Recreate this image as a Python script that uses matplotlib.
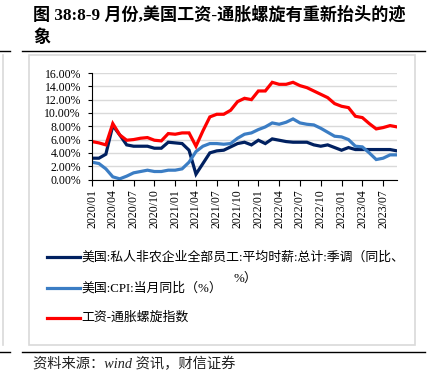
import matplotlib
matplotlib.use("Agg")
import matplotlib.pyplot as plt
from matplotlib.lines import Line2D
from matplotlib.patches import Rectangle
import numpy as np

months = [f"{y}/{m:02d}" for y in range(2020, 2024) for m in range(1, 13)][:45]

wage = [3.2, 3.2, 3.8, 8.1, 6.7, 5.2, 5.0, 5.0, 5.0, 4.7, 4.7, 5.6, 5.5, 5.4, 4.4,
        0.8, 2.4, 4.0, 4.3, 4.4, 4.9, 5.4, 5.6, 5.2, 5.9, 5.4, 6.1, 5.9, 5.7, 5.6,
        5.6, 5.6, 5.2, 5.0, 5.2, 4.8, 4.4, 4.8, 4.5, 4.5, 4.5, 4.5, 4.5, 4.5, 4.3]
cpi = [2.6, 2.4, 1.6, 0.4, 0.1, 0.5, 1.0, 1.2, 1.4, 1.2, 1.2, 1.4, 1.4, 1.6, 2.6,
       4.2, 5.0, 5.4, 5.4, 5.3, 5.4, 6.2, 6.8, 7.0, 7.5, 7.9, 8.5, 8.3, 8.6, 9.1,
       8.5, 8.3, 8.2, 7.7, 7.1, 6.5, 6.4, 6.0, 5.0, 4.9, 4.0, 3.0, 3.2, 3.7, 3.7]
spiral = [5.7, 5.5, 5.2, 8.4, 6.7, 5.9, 6.0, 6.2, 6.3, 5.9, 5.8, 6.9, 6.8, 7.0, 7.0,
          5.0, 7.3, 9.4, 9.8, 9.8, 10.4, 11.7, 12.2, 12.0, 13.3, 13.3, 14.6, 14.3, 14.3, 14.6,
          14.1, 13.8, 13.3, 12.8, 12.3, 11.4, 11.0, 10.8, 9.5, 9.3, 8.4, 7.6, 7.8, 8.1, 7.9]

labels = ["美国:私人非农企业全部员工:平均时薪:总计:季调（同比、",
          "美国:CPI:当月同比（%）",
          "工资-通胀螺旋指数"]
colors = ["#002060", "#3B7DC4", "#FF0000"]
yticks = [0, 2, 4, 6, 8, 10, 12, 14, 16]

W, H = 438, 385
fig = plt.figure(figsize=(W / 100, H / 100), dpi=100)
serif_cjk = ["Liberation Serif", "Noto Sans CJK SC"]

def fx(x): return x / W
def fy(y): return 1 - y / H

# frame box
fig.add_artist(Rectangle((fx(29), fy(345)), fx(415) - fx(29), fy(55) - fy(345),
                         transform=fig.transFigure, fill=False, ec="#D9D9D9", lw=1.2))
fig.add_artist(Line2D([fx(3), fx(3)], [fy(55), fy(345)], transform=fig.transFigure,
                      color="#D9D9D9", lw=1.2))
# black rules
for yy in (50.7, 351.5):
    fig.add_artist(Line2D([fx(22), fx(425)], [fy(yy), fy(yy)], transform=fig.transFigure,
                          color="black", lw=1.0))
    fig.add_artist(Line2D([fx(0), fx(10)], [fy(yy), fy(yy)], transform=fig.transFigure,
                          color="black", lw=1.0))

# title
fig.text(fx(33), fy(15), "图 38:8-9 月份,美国工资-通胀螺旋有重新抬头的迹",
         fontsize=12.3, fontweight="bold", family=serif_cjk, va="center", ha="left")
fig.text(fx(33), fy(38), "象", fontsize=12.3, fontweight="bold",
         family=serif_cjk, va="center", ha="left")

ax = fig.add_axes([fx(92), fy(179.5), fx(397) - fx(92), fy(73) - fy(179.5)])
x = np.arange(len(months))
series = [wage, cpi, spiral]
handles = []
for s, c, lab in zip(series, colors, labels):
    h, = ax.plot(x, s, color=c, lw=2.3, solid_joinstyle="miter", label=lab)
    handles.append(h)

ax.set_xlim(0, len(months) - 1)
ax.set_ylim(0, 16)
ax.set_yticks(yticks)
ax.set_yticklabels([f"{v:.2f}%" for v in yticks], family="Liberation Serif", fontsize=8.5)
ax.set_xticks(x[::3])
ax.set_xticklabels(months[::3], rotation=90, family="Liberation Serif", fontsize=8.5)
ax.tick_params(axis="y", length=3, width=0.8, pad=5)
ax.tick_params(axis="x", length=4, width=0.8, pad=3)
ax.grid(axis="y", color="#D9D9D9", lw=1.0)
ax.set_axisbelow(True)
for sp in ("top", "right"):
    ax.spines[sp].set_visible(False)
for sp in ("left", "bottom"):
    ax.spines[sp].set_color("black")
    ax.spines[sp].set_linewidth(0.8)

# legend (manual)
rows = [257, 288, 318]
for h, yy in zip(handles, rows):
    fig.add_artist(Line2D([fx(47), fx(80)], [fy(yy), fy(yy)], transform=fig.transFigure,
                          color=h.get_color(), lw=2.3))
    fig.text(fx(81), fy(yy), h.get_label(), fontsize=9.3, family=serif_cjk,
             va="center", ha="left")
fig.text(fx(234), fy(279), "%）", fontsize=9.3, family=serif_cjk, va="center", ha="left")

# source
fig.text(fx(33), fy(364), "资料来源：wind 资讯，财信证券", fontsize=10.3, style="italic",
         family=serif_cjk, va="center", ha="left", color="#222222")

fig.savefig("out.png", dpi=100)
